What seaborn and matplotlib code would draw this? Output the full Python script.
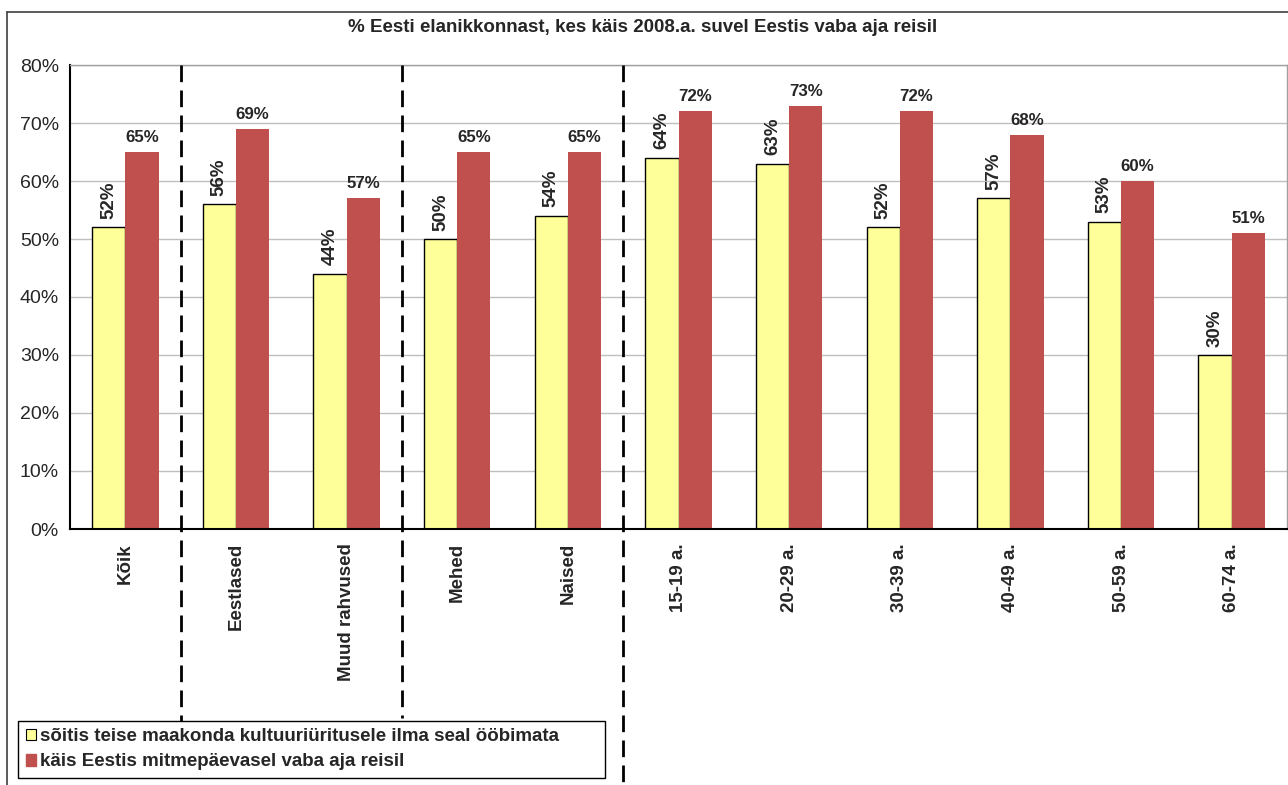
import numpy as np
import pandas as pd
import matplotlib
matplotlib.use('Agg')
import matplotlib.pyplot as plt
import matplotlib.transforms as mtransforms
from matplotlib.patches import Patch
import seaborn as sns

# ------------------------------------------------------------
# andmed
# ------------------------------------------------------------
categories = ['Kõik', 'Eestlased', 'Muud rahvused', 'Mehed', 'Naised',
              '15-19 a.', '20-29 a.', '30-39 a.', '40-49 a.', '50-59 a.', '60-74 a.']
series_names = ['sõitis teise maakonda kultuuriüritusele ilma seal ööbimata',
                'käis Eestis mitmepäevasel vaba aja reisil']
kultuur = [52, 56, 44, 50, 54, 64, 63, 52, 57, 53, 30]
reis = [65, 69, 57, 65, 65, 72, 73, 72, 68, 60, 51]
y_ticks = [0, 10, 20, 30, 40, 50, 60, 70, 80]
title = '% Eesti elanikkonnast, kes käis 2008.a. suvel Eestis vaba aja reisil'

df = pd.DataFrame({
    'kategooria': categories * 2,
    'seeria': [series_names[0]] * len(categories) + [series_names[1]] * len(categories),
    'vaartus': kultuur + reis,
})

yellow = '#FFFF99'
red = '#C0504D'

sns.set_theme(style='white')
plt.rcParams['font.family'] = ['Liberation Sans', 'DejaVu Sans']

fig = plt.figure(figsize=(12.88, 7.85), dpi=100)
ax = fig.add_axes([70 / 1288, 1 - 529 / 785, 1217 / 1288, 464 / 785])

sns.barplot(data=df, x='kategooria', y='vaartus', hue='seeria', order=categories,
            hue_order=series_names, palette=[yellow, red], width=0.6,
            saturation=1, ax=ax, legend=False)

n = len(categories)
for i, patch in enumerate(ax.patches[:2 * n]):
    if i < n:
        patch.set_edgecolor('black')
        patch.set_linewidth(1.0)
    else:
        patch.set_edgecolor(red)
        patch.set_linewidth(0)

# väärtuste sildid
for i, patch in enumerate(ax.patches[:2 * n]):
    xc = patch.get_x() + patch.get_width() / 2
    h = patch.get_height()
    if i < n:
        ax.annotate(f'{h:.0f}%', (xc, h), xytext=(0, 6), textcoords='offset points',
                    ha='center', va='bottom', rotation=90, fontsize=13.5, fontweight='bold')
    else:
        ax.annotate(f'{h:.0f}%', (xc, h), xytext=(0, 5), textcoords='offset points',
                    ha='center', va='bottom', fontsize=12.2, fontweight='bold')

ax.set_ylim(0, 80)
ax.set_xlim(-0.5, n - 0.5)
ax.set_yticks(y_ticks)
ax.set_yticklabels([f'{v}%' for v in y_ticks], fontsize=14)
ax.yaxis.grid(True, color='#BFBFBF', lw=1.0)
ax.set_axisbelow(True)
ax.set_xlabel('')
ax.set_ylabel('')

# x-telje märgid kategooriate vahel, sildid keskel
ax.set_xticks(np.arange(-0.5, n, 1.0))
ax.set_xticklabels([])
ax.set_xticks(np.arange(n), minor=True)
ax.set_xticklabels(categories, minor=True, rotation=90, fontsize=13.5, fontweight='bold',
                   va='top', ha='center')
ax.tick_params(axis='x', which='major', direction='out', length=6, width=1, color='black')
ax.tick_params(axis='x', which='minor', length=0, pad=10)
ax.tick_params(axis='y', direction='out', length=6, width=1, color='black', pad=2)

for side in ['left', 'bottom']:
    ax.spines[side].set_color('black')
    ax.spines[side].set_linewidth(1.5)
for side in ['top', 'right']:
    ax.spines[side].set_color('#A0A0A0')
    ax.spines[side].set_linewidth(1.0)

# katkendjooned rühmade vahel
trans = mtransforms.blended_transform_factory(ax.transData, ax.transAxes)
for xpos, ybot in [(0.5, -0.444), (2.5, -0.407), (4.5, -0.56)]:
    line, = ax.plot([xpos, xpos], [1.0, ybot], transform=trans, color='black',
                    lw=2, clip_on=False, zorder=5)
    line.set_dashes([6, 3])

# välimine raam
fig.add_artist(plt.Line2D([7 / 1288, 7 / 1288], [0, 1 - 12 / 785], color='#404040', lw=1.2))
fig.add_artist(plt.Line2D([7 / 1288, 1], [1 - 12 / 785, 1 - 12 / 785], color='#404040', lw=1.2))

fig.text(643 / 1288, 1 - 28 / 785, title, ha='center', va='center',
         fontsize=13.5, fontweight='bold')

handles = [Patch(facecolor=yellow, edgecolor='black', lw=0.8),
           Patch(facecolor=red, edgecolor=red)]
leg = fig.legend(handles, series_names, loc='lower left',
                 bbox_to_anchor=(18 / 1288, 7 / 785, 587 / 1288, 58 / 785), mode='expand',
                 frameon=True, fancybox=False, edgecolor='black', framealpha=1,
                 prop={'weight': 'bold', 'size': 13.5}, handlelength=0.55, handleheight=0.55,
                 handletextpad=0.2, borderpad=0.4, labelspacing=0.45, borderaxespad=0)
leg.get_frame().set_linewidth(1.0)
leg.set_zorder(10)

fig.savefig('out.png', dpi=100)
